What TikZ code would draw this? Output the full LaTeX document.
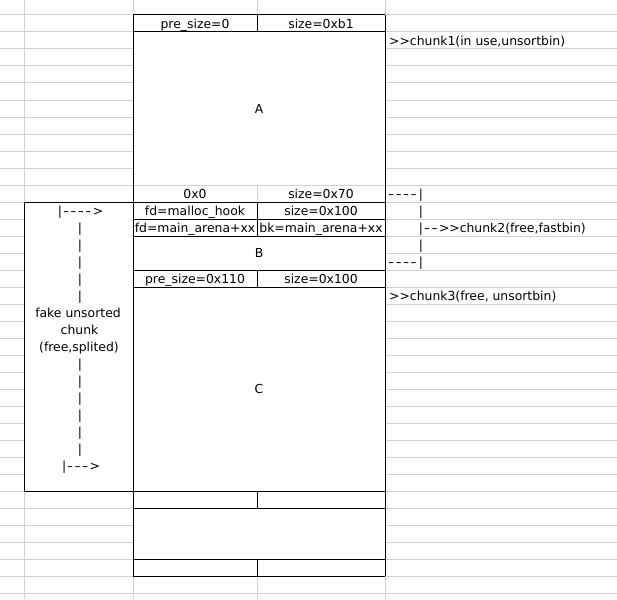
\documentclass[tikz,border=0pt]{standalone}
\usepackage{fontspec}
\usepackage{graphicx}
\setmainfont{DejaVu Sans}
\usetikzlibrary{calc}
\newcommand{\hd}{\scalebox{1.35}[1]{-}\kern1.4pt\relax}
\begin{document}
\begin{tikzpicture}[x=1pt,y=-1pt,
  grid/.style={draw=gray!35,line width=1pt},
  bord/.style={draw=black,line width=1pt},
  txt/.style={inner sep=0pt,anchor=base,font=\fontsize{12.4}{14}\selectfont,text=black}]
\useasboundingbox (0,0) rectangle (617,599);
\fill[white] (0,0) rectangle (617,599);
% spreadsheet grid
\foreach \k in {0,...,34} \draw[grid] (0,15+17*\k) -- (617,15+17*\k);
\foreach \x in {24,133,257,385} \draw[grid] (\x,0) -- (\x,599);
% merged cells (no grid inside)
\fill[white] (133.5,32.5) rectangle (384.5,184.5);
\fill[white] (133.5,236.5) rectangle (384.5,269.5);
\fill[white] (133.5,287.5) rectangle (384.5,490.5);
\fill[white] (133.5,508.5) rectangle (384.5,558.5);
\fill[white] (24.5,202.5) rectangle (132.5,490.5);
% black borders
\draw[bord] (133,15) -- (133,576);
\draw[bord] (385,15) -- (385,576);
\draw[bord] (24,202) -- (24,491);
\foreach \y in {15,32,219,236,270,287,508,559,576} \draw[bord] (133,\y) -- (385,\y);
\draw[bord] (24,202) -- (385,202);
\draw[bord] (24,491) -- (385,491);
\draw[bord] (257,15) -- (257,32);
\draw[bord] (257,202) -- (257,236);
\draw[bord] (257,270) -- (257,287);
\draw[bord] (257,491) -- (257,508);
\draw[bord] (257,559) -- (257,576);
% cell texts
\node[txt] (p0) at (195,28.5) {pre\_size=0};
\node[txt] (s0) at (321,28.5) {size=0xb1};
\node[txt] (A) at (259,113) {A};
\node[txt] (z0) at (195,198.5) {0x0};
\node[txt] (s70) at (321,198.5) {size=0x70};
\node[txt] (fd1) at (195,215.5) {fd=malloc\_hook};
\node[txt] (s100) at (321,215.5) {size=0x100};
\node[txt] (fd2) at (195,232.5) {fd=main\_arena+xx};
\node[txt] (bk2) at (321,232.5) {bk=main\_arena+xx};
\node[txt] (B) at (259,257.5) {B};
\node[txt] (p110) at (195,283.5) {pre\_size=0x110};
\node[txt] (s100b) at (321,283.5) {size=0x100};
\node[txt] (C) at (259,393.5) {C};
% right column notes
\node[txt,anchor=base west] (c1) at (389,45.5) {>{}>chunk1(in use,unsortbin)};
\node[txt,anchor=base west] (d1) at (388,198.5) {\hd\hd\hd\hd\kern1pt|};
\node[txt,anchor=base east] (b1) at ($(d1.base east)+(0,17)$) {|};
\node[txt,anchor=base west] (c2) at ($(b1.base west)+(0,17)$) {|\kern1pt\hd\hd>{}>chunk2(free,fastbin)};
\node[txt,anchor=base east] (b2) at ($(d1.base east)+(0,51)$) {|};
\node[txt,anchor=base west] (d2) at ($(d1.base west)+(0,68)$) {\hd\hd\hd\hd\kern1pt|};
\node[txt,anchor=base west] (c3) at (389,300.5) {>{}>chunk3(free, unsortbin)};
% left fake chunk
\node[txt] (l0) at (80.5,215.5) {|\kern1pt\hd\hd\hd\hd>};
\foreach \k in {1,...,5} \node[txt] (lb\k) at (80,215.5+17*\k) {|};
\node[txt] (f1) at (78,317.5) {fake unsorted};
\node[txt] (f2) at (79.5,334.5) {chunk};
\node[txt] (f3) at (79,351.5) {(free,splited)};
\foreach \k in {9,...,14} \node[txt] (lb\k) at (80,215.5+17*\k) {|};
\node[txt] (l15) at (81,470.5) {|\kern1pt\hd\hd\hd>};
\end{tikzpicture}
\end{document}
